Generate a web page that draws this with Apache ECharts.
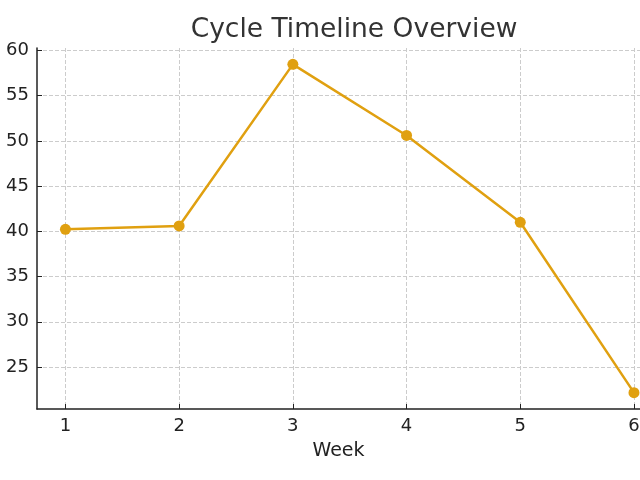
<!DOCTYPE html>
<html>
<head>
<meta charset="utf-8">
<script src="https://cdn.jsdelivr.net/npm/echarts@6/dist/echarts.min.js"></script>
<style>
  html, body { margin: 0; padding: 0; background: #fff; }
  #chart { width: 640px; height: 480px; }
</style>
</head>
<body>
<div id="chart"></div>
<script>
var weeks = [1, 2, 3, 4, 5, 6];
var cycleValues = [40.22, 40.6, 58.46, 50.6, 41.0, 22.17];
var yTicks = [25, 30, 35, 40, 45, 50, 55, 60];

var myChart = echarts.init(document.getElementById('chart'));
var font = 'DejaVu Sans';
var option = {
    animation: false,
    title: {
        text: 'Cycle Timeline Overview',
        left: 349,
        top: 12,
        textAlign: 'center',
        textStyle: { fontFamily: font, fontSize: 26.5, fontWeight: 'normal', color: '#333' }
    },
    grid: { left: 37, top: 48, right: 0, bottom: 71, outerBoundsMode: 'none' },
    xAxis: {
        type: 'value',
        min: 0.75,
        max: 6.053,
        name: 'Week',
        nameLocation: 'middle',
        nameGap: 33,
        nameTextStyle: { fontFamily: font, fontSize: 19, color: '#222' },
        axisLine: { lineStyle: { color: '#222', width: 1.5 } },
        axisTick: { customValues: weeks, inside: true, length: 5, lineStyle: { color: '#222' } },
        axisLabel: { customValues: weeks, fontFamily: font, fontSize: 18, color: '#222', margin: 8, showMaxLabel: true },
        splitLine: { show: true, lineStyle: { color: '#ccc', type: 'dashed' } }
    },
    yAxis: {
        type: 'value',
        min: 20.36,
        max: 60.27,
        axisLine: { show: true, lineStyle: { color: '#222', width: 1.5 } },
        axisTick: { show: true, customValues: yTicks, inside: true, length: 5, lineStyle: { color: '#222' } },
        axisLabel: { customValues: yTicks, fontFamily: font, fontSize: 18, color: '#222', margin: 8 },
        splitLine: { show: true, lineStyle: { color: '#ccc', type: 'dashed' } }
    },
    series: [{
        type: 'line',
        data: weeks.map(function (w, i) { return [w, cycleValues[i]]; }),
        symbol: 'circle',
        symbolSize: 11,
        lineStyle: { color: '#E0A010', width: 2.5 },
        itemStyle: { color: '#E0A010' }
    }]
};
myChart.setOption(option);
</script>
</body>
</html>
